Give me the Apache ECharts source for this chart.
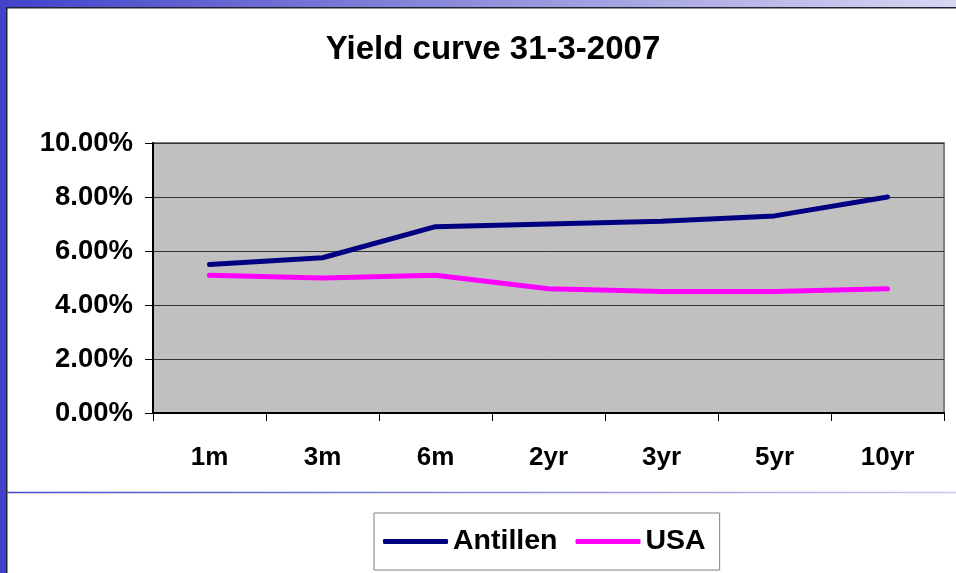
<!DOCTYPE html>
<html>
<head>
<meta charset="utf-8">
<script src="https://cdn.jsdelivr.net/npm/echarts@6/dist/echarts.min.js"></script>
<style>
  html, body { margin: 0; padding: 0; background: #ffffff; }
  #chart { width: 956px; height: 573px; }
</style>
</head>
<body>
<div id="chart"></div>
<script>
// Maturities on the horizontal axis
const maturities = ['1m', '3m', '6m', '2yr', '3yr', '5yr', '10yr'];
// Yields in percent
const antillen = [5.5, 5.75, 6.9, 7.0, 7.1, 7.3, 8.0];
const usa = [5.1, 5.0, 5.1, 4.6, 4.5, 4.5, 4.6];
// Value axis range (percent)
const yMin = 0, yMax = 10, yStep = 2;

const FONT = 'Liberation Sans, Arial, sans-serif';

const chart = echarts.init(document.getElementById('chart'), null, { renderer: 'canvas' });

chart.setOption({
  backgroundColor: '#ffffff',
  animation: false,
  title: {
    text: 'Yield curve 31-3-2007',
    left: 488,
    textAlign: 'center',
    top: 28,
    textStyle: { fontFamily: FONT, fontWeight: 'bold', fontSize: 33, color: '#000000' }
  },
  legend: {
    data: ['Antillen', 'USA'],
    left: 374,
    top: 513,
    padding: [14, 14, 14, 9],
    itemGap: 18,
    itemWidth: 65,
    itemHeight: 5,
    icon: 'roundRect',
    borderColor: '#808080',
    borderWidth: 1,
    backgroundColor: '#ffffff',
    textStyle: { fontFamily: FONT, fontWeight: 'bold', fontSize: 28.5, color: '#000000' }
  },
  grid: {
    left: 153, right: 12, top: 143, bottom: 160,
    show: true,
    backgroundColor: '#c0c0c0',
    borderColor: '#808080',
    borderWidth: 2
  },
  xAxis: {
    type: 'category',
    data: maturities,
    boundaryGap: true,
    axisLine: { show: true, lineStyle: { color: '#000000', width: 2 } },
    axisTick: { show: true, length: 8, lineStyle: { color: '#000000', width: 1 } },
    axisLabel: { margin: 32, fontFamily: FONT, fontWeight: 'bold', fontSize: 26, color: '#000000' },
    splitLine: { show: false }
  },
  yAxis: {
    type: 'value',
    min: yMin, max: yMax, interval: yStep,
    axisLine: { show: true, lineStyle: { color: '#000000', width: 2 } },
    axisTick: { show: true, length: 8, lineStyle: { color: '#000000', width: 1 } },
    axisLabel: {
      margin: 20,
      fontFamily: FONT, fontWeight: 'bold', fontSize: 27.5, color: '#000000',
      formatter: v => v.toFixed(2) + '%'
    },
    splitLine: { show: true, lineStyle: { color: '#333333', width: 1 } }
  },
  series: [
    {
      name: 'Antillen', type: 'line', data: antillen,
      symbol: 'none', smooth: false,
      itemStyle: { color: '#000080' },
      lineStyle: { color: '#000080', width: 5, cap: 'round', join: 'round' }
    },
    {
      name: 'USA', type: 'line', data: usa,
      symbol: 'none', smooth: false,
      itemStyle: { color: '#ff00ff' },
      lineStyle: { color: '#ff00ff', width: 5, cap: 'round', join: 'round' }
    }
  ],
  graphic: [
    // slide frame: left bar
    { type: 'rect', shape: { x: 0, y: 0, width: 6, height: 573 }, style: { fill: '#4141cb' }, z: 100 },
    { type: 'rect', shape: { x: 6, y: 7, width: 1.5, height: 566 }, style: { fill: '#222233' }, z: 100 },
    // slide frame: top bar
    {
      type: 'rect', shape: { x: 0, y: 0, width: 956, height: 7 },
      style: {
        fill: new echarts.graphic.LinearGradient(0, 0, 1, 0, [
          { offset: 0, color: '#4141cb' },
          { offset: 0.5, color: '#8f8fdc' },
          { offset: 1, color: '#d6d6f2' }
        ])
      },
      z: 100
    },
    { type: 'rect', shape: { x: 6, y: 7, width: 950, height: 1.5 }, style: { fill: '#222233' }, z: 100 },
    // separator line
    {
      type: 'line', shape: { x1: 7, y1: 492.5, x2: 956, y2: 492.5 },
      style: {
        stroke: new echarts.graphic.LinearGradient(0, 0, 1, 0, [
          { offset: 0, color: '#4848c8' },
          { offset: 1, color: '#c8c8f0' }
        ]),
        lineWidth: 1.5
      },
      z: 100
    }
  ]
});
</script>
</body>
</html>
